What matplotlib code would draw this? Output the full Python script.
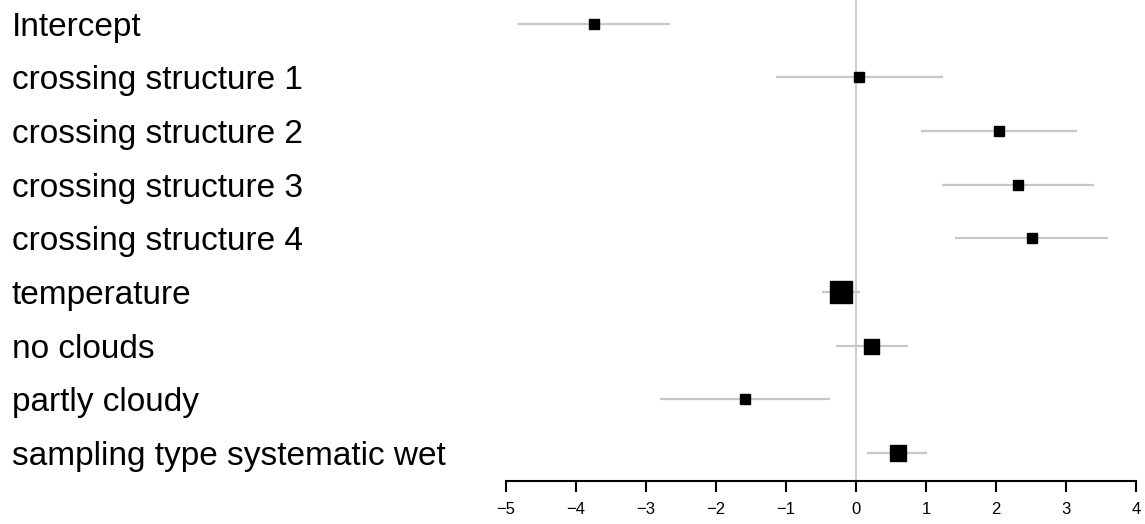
import numpy as np
from matplotlib import pyplot as plt
from matplotlib import transforms

labels = [
    "Intercept",
    "crossing structure 1",
    "crossing structure 2",
    "crossing structure 3",
    "crossing structure 4",
    "temperature",
    "no clouds",
    "partly cloudy",
    "sampling type systematic wet",
]
estimate = [-3.74, 0.04, 2.04, 2.31, 2.51, -0.22, 0.22, -1.59, 0.60]
ci_low = [-4.83, -1.14, 0.93, 1.23, 1.42, -0.49, -0.29, -2.80, 0.16]
ci_high = [-2.66, 1.24, 3.16, 3.40, 3.60, 0.06, 0.74, -0.37, 1.02]
# relative weight of each estimate (drives the marker size)
weight = [10, 10, 10, 10, 10, 22, 15, 9.3, 16]
xticks = [-5, -4, -3, -2, -1, 0, 1, 2, 3, 4]

fig = plt.figure(figsize=(11.45, 5.24), dpi=100)
ax = fig.add_axes([506 / 1145, 43 / 524, 630 / 1145, 481 / 524])

rows = np.arange(len(labels))
ax.axvline(0, color="#d0d0d0", lw=1.5, zorder=1)
ax.hlines(rows, ci_low, ci_high, color="#c8c8c8", lw=1.6, zorder=2)
for r, est, w in zip(rows, estimate, weight):
    ax.plot(est, r, marker="s", color="black", ms=w * 0.72, zorder=3)

ax.set_xlim(-5, 4)
ax.set_ylim(len(labels) - 1 + 0.52, -0.442)
ax.set_xticks(xticks)
ax.set_xticklabels([f"{t}".replace("-", "\u2212") for t in xticks],
                   fontsize=12, family="Liberation Sans")
ax.tick_params(axis="x", length=8, width=1.5, pad=7)
ax.set_yticks([])
for s in ["top", "left", "right"]:
    ax.spines[s].set_visible(False)
ax.spines["bottom"].set_linewidth(1.5)

trans = transforms.blended_transform_factory(fig.transFigure, ax.transData)
for r, lab in zip(rows, labels):
    ax.text(12 / 1145, r, lab, transform=trans, ha="left", va="center_baseline",
            fontsize=24, family="Liberation Sans", clip_on=False)

plt.savefig("out.png")
plt.close()
